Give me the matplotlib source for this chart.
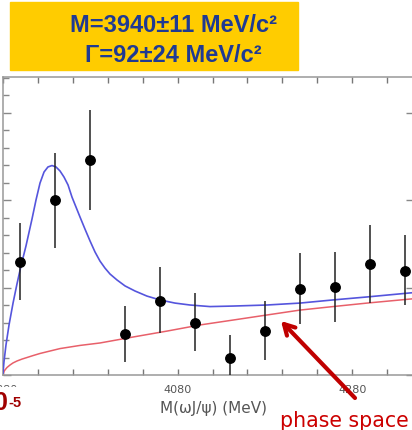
import numpy as np
import matplotlib
matplotlib.use("Agg")
import matplotlib.pyplot as plt
from matplotlib.ticker import MultipleLocator, FixedLocator

# data points: bin centres (MeV), events, lower/upper errors
mass = [3900, 3940, 3980, 4020, 4060, 4100, 4140, 4180, 4220, 4260, 4300, 4340]
events = [6.46, 10.0, 12.29, 2.34, 4.23, 2.97, 0.97, 2.51, 4.91, 5.03, 6.34, 5.94]
err_lo = [2.17, 2.74, 2.86, 1.6, 1.83, 1.6, 0.97, 1.66, 2.0, 2.0, 2.23, 1.94]
err_hi = [2.23, 2.69, 2.86, 1.6, 1.94, 1.71, 1.31, 1.71, 2.06, 2.0, 2.23, 2.06]

# fit curve (signal + phase space)
fit_m = [3880.0, 3881.1, 3883.4, 3886.9, 3891.5, 3896.0, 3900.6, 3906.3, 3913.2,
         3917.8, 3922.4, 3927.0, 3931.5, 3936.1, 3940.7, 3945.3, 3949.9, 3954.5,
         3959.0, 3963.6, 3968.2, 3973.9, 3979.7, 3985.4, 3991.1, 3996.8, 4002.6,
         4010.6, 4019.8, 4031.2, 4044.9, 4059.8, 4077.0, 4094.2, 4117.1, 4143.5,
         4182.4, 4220.2, 4258.0, 4297.0, 4346.2, 4351.0]
fit_y = [0.11, 0.74, 1.71, 2.86, 4.11, 5.2, 6.23, 7.37, 8.91,
         10.0, 10.97, 11.6, 11.89, 11.97, 11.89, 11.66, 11.31, 10.86,
         10.17, 9.6, 9.03, 8.34, 7.66, 7.03, 6.51, 6.11, 5.77,
         5.43, 5.09, 4.8, 4.51, 4.29, 4.11, 4.0, 3.91, 3.94,
         4.0, 4.11, 4.29, 4.46, 4.69, 4.71]

# phase space curve
ps_m = [3880.0, 3881.1, 3882.3, 3884.6, 3888.0, 3891.5, 3896.0, 3901.8, 3907.5,
        3914.4, 3922.4, 3933.8, 3945.3, 3968.2, 3991.1, 4028.9, 4067.9, 4105.7,
        4143.5, 4182.4, 4220.2, 4258.0, 4297.0, 4346.2, 4351.0]
ps_y = [0.0, 0.2, 0.29, 0.43, 0.57, 0.69, 0.8, 0.91, 1.0,
        1.11, 1.23, 1.37, 1.51, 1.69, 1.83, 2.17, 2.51, 2.86,
        3.14, 3.43, 3.71, 3.91, 4.11, 4.34, 4.36]

W, H = 412, 430
fig = plt.figure(figsize=(W / 100, H / 100), dpi=100)

# axes: left x=3px, right just past the edge, top y=77, bottom y=375
ax = fig.add_axes([3 / W, (H - 375) / H, 411 / W, (375 - 77) / H])
ax.set_xlim(3880, 3880 + 411 / 0.873)
ax.set_ylim(0, 17.03)

ax.plot(ps_m, ps_y, color="#e8606a", lw=1.1, zorder=2)
ax.plot(fit_m, fit_y, color="#5555dd", lw=1.2, zorder=3)
ax.errorbar(mass, events, yerr=[err_lo, err_hi], fmt="o", color="black",
            ms=6.8, ecolor="#222222", elinewidth=1.1, capsize=0, zorder=4)

for s in ax.spines.values():
    s.set_color("#999999")
    s.set_linewidth(1.1)

ax.xaxis.set_major_locator(FixedLocator([3880, 4080, 4280]))
ax.xaxis.set_minor_locator(MultipleLocator(40))
ax.yaxis.set_major_locator(MultipleLocator(5))
ax.yaxis.set_minor_locator(MultipleLocator(1))
ax.tick_params(axis="x", which="both", direction="in", top=True, length=4,
               width=1, color="#777777", labelsize=8, labelcolor="#555555", pad=7)
ax.tick_params(axis="y", which="minor", direction="in", left=True, right=False,
               length=4, width=1, color="#888888")
ax.tick_params(axis="y", which="major", direction="in", left=True, right=True,
               length=6, width=1, color="#888888", labelleft=False)
ax.set_xticklabels(["3880", "4080", "4280"])

fig.text(213 / W, (H - 408) / H, "M(\u03c9J/\u03c8) (MeV)", fontsize=11,
         color="#555555", ha="center", va="center", family="DejaVu Sans")

# white patch hiding the lower part of the clipped label, then the scale factor
fig.patches.append(plt.Rectangle((0, 0), 26 / W, (H - 387) / H, color="white",
                                 transform=fig.transFigure, figure=fig, zorder=5))
fig.text(8 / W, (H - 410) / H, "10", fontsize=18, fontweight="bold",
         color="#a00000", ha="right", va="baseline", family="Liberation Sans", zorder=6)
fig.text(8 / W, (H - 407) / H, "-5", fontsize=10.5, fontweight="bold",
         color="#a00000", ha="left", va="baseline", family="Liberation Sans", zorder=6)

# yellow result box
fig.patches.append(plt.Rectangle((10 / W, (H - 70) / H), 288 / W, 68 / H,
                                 color="#ffcc00", transform=fig.transFigure,
                                 figure=fig, zorder=5))
fig.text(173 / W, (H - 32) / H, "M=3940\u00b111 MeV/c\u00b2", fontsize=17,
         fontweight="bold", color="#1f3a93", ha="center", va="baseline",
         family="Liberation Sans", zorder=6)
fig.text(173 / W, (H - 62) / H, "\u0393=92\u00b124 MeV/c\u00b2", fontsize=17,
         fontweight="bold", color="#1f3a93", ha="center", va="baseline",
         family="Liberation Sans", zorder=6)

# phase space label and arrow
fig.text(344 / W, (H - 427) / H, "phase space", fontsize=14.8, color="#cc0000",
         ha="center", va="baseline", family="DejaVu Sans")
ax.annotate("", xy=(281, H - 321), xycoords="figure pixels",
            xytext=(355, H - 398), textcoords="figure pixels",
            arrowprops=dict(arrowstyle="->,head_length=0.75,head_width=0.42",
                            color="#c00000", lw=3, shrinkA=0, shrinkB=0))

fig.savefig("out.png", dpi=100)
